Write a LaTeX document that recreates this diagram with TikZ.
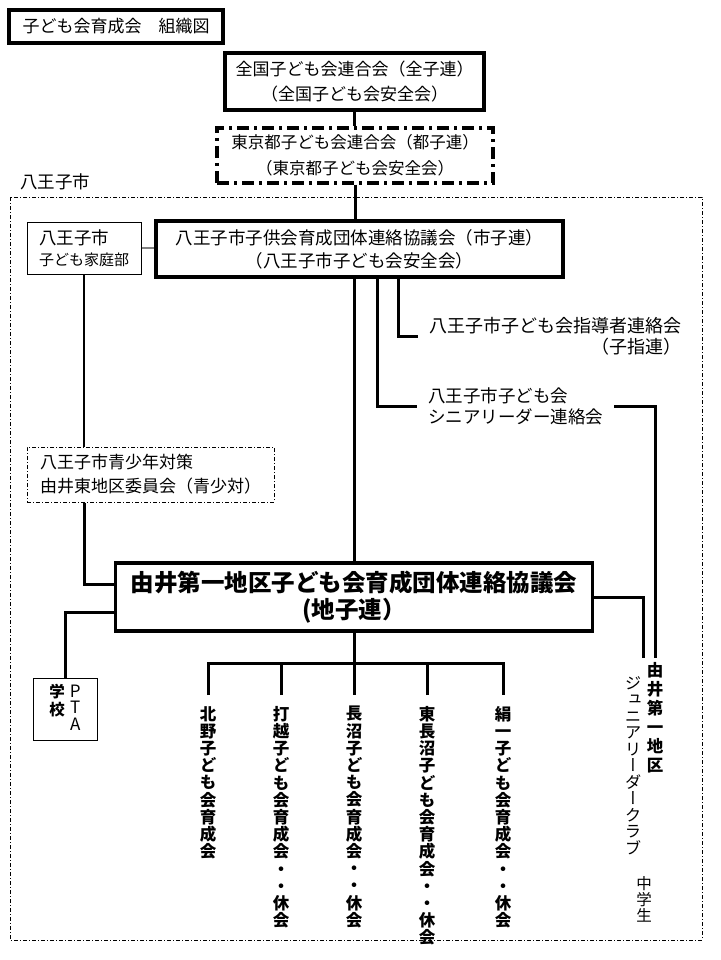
\documentclass[tikz,border=0pt]{standalone}
\usepackage{fontspec}
\setmainfont{Noto Sans CJK JP}
\newfontfamily\jpv[RawFeature=+vert]{Noto Sans CJK JP}
\tikzset{
  thickbox/.style={draw, line width=3.3pt, inner sep=0pt, align=center},
  thinbox/.style={draw, line width=1pt, inner sep=0pt},
  ddot/.style={dash pattern=on 4pt off 2pt on 1pt off 2pt},
  conn/.style={line width=3pt},
  thinconn/.style={line width=1.3pt},
  vcol/.style={align=center, inner xsep=0pt, inner ysep=0pt, anchor=north,
    font=\jpv\bfseries\fontsize{16.5}{17.2}\selectfont},
}
\begin{document}
\begin{tikzpicture}[x=1pt,y=-1pt]
\useasboundingbox (0,0) rectangle (720,960);

% title
\node[thickbox, minimum width=214pt, minimum height=33pt,
  font=\fontsize{17}{20}\selectfont] (title) at (116,26.5) {子ども会育成会　組織図};

% national
\node[thickbox, minimum width=259pt, minimum height=57pt,
  font=\fontsize{17}{25}\selectfont] (zen) at (354.5,81.5)
  {全国子ども会連合会（全子連）\\（全国子ども会安全会）};

% tokyo
\node[draw, line width=3.3pt, dash pattern=on 12pt off 5pt on 3pt off 5pt,
  inner sep=0pt, align=center, minimum width=276pt, minimum height=55pt,
  font=\fontsize{16.5}{26}\selectfont] (tokyo) at (355,155.5)
  {東京都子ども会連合会（都子連）\\（東京都子ども会安全会）};

% Hachioji region
\node[anchor=west, inner sep=0pt, font=\fontsize{17.5}{20}\selectfont] (hlabel) at (20,182) {八王子市};
\draw[line width=1pt, ddot] (10,197) rectangle (702,940);

% katei
\node[thinbox, minimum width=114pt, minimum height=52pt, align=left,
  font=\fontsize{17.5}{21}\selectfont] (katei) at (84,248)
  {八王子市\\{\fontsize{15}{18}\selectfont 子ども家庭部}};

% shikoren
\node[thickbox, minimum width=407pt, minimum height=56pt,
  font=\fontsize{17.5}{23}\selectfont] (shikoren) at (359.5,249)
  {八王子市子供会育成団体連絡協議会（市子連）\\（八王子市子ども会安全会）};

% shido
\node[align=right, inner xsep=11pt, inner ysep=0pt,
  font=\fontsize{18}{21}\selectfont] (shido) at (555.5,336.5)
  {八王子市子ども会指導者連絡会\\（子指連）};

% senior
\node[align=left, inner xsep=11pt, inner ysep=0pt, anchor=west,
  font=\fontsize{17.5}{21}\selectfont] (senior) at (417,406)
  {八王子市子ども会\\シニアリーダー連絡会};

% seishou
\node[draw, line width=1pt, ddot, inner sep=0pt, minimum width=247pt, minimum height=55pt,
  align=left, font=\fontsize{17}{24}\selectfont] (seishou) at (150.5,474.5)
  {八王子市青少年対策\\由井東地区委員会（青少対）};

% chikoren
\node[draw, line width=3.8pt, inner sep=0pt, minimum width=477pt, minimum height=68pt,
  align=center, font=\bfseries\fontsize{23.5}{27}\selectfont] (chikoren) at (354,597)
  {由井第一地区子ども会育成団体連絡協議会\\(地子連）};

% PTA
\node[thinbox, minimum width=64pt, minimum height=62pt] (pta) at (65,709)
  {\fontsize{15.5}{17}\selectfont\begin{tabular}[t]{@{}c@{}}\textbf{学}\\\textbf{校}\end{tabular}\hspace{5pt}\fontsize{17}{12.5}\selectfont\begin{tabular}[t]{@{}c@{}}P\\T\\A\end{tabular}};

% columns
\node[vcol, inner ysep=11pt] (c1) at (208,695) {北\\野\\子\\ど\\も\\会\\育\\成\\会};
\node[vcol, inner ysep=11pt] (c2) at (281,695) {打\\越\\子\\ど\\も\\会\\育\\成\\会\\・\\・\\休\\会};
\node[vcol, inner ysep=11pt] (c3) at (354,695) {長\\沼\\子\\ど\\も\\会\\育\\成\\会\\・\\・\\休\\会};
\node[vcol, inner ysep=11pt] (c4) at (427,695) {東\\長\\沼\\子\\ど\\も\\会\\育\\成\\会\\・\\・\\休\\会};
\node[vcol, inner ysep=11pt] (c5) at (503,695) {絹\\一\\子\\ど\\も\\会\\育\\成\\会\\・\\・\\休\\会};

% junior leader
\node[vcol, inner ysep=4pt, font=\jpv\bfseries\fontsize{16.5}{19}\selectfont] (yui) at (655,658)
  {由\\井\\第\\一\\地\\区};
\node[vcol, font=\jpv\fontsize{16.5}{16.5}\selectfont] (jr) at (633,676)
  {ジ\\ュ\\ニ\\ア\\リ\\ー\\ダ\\ー\\ク\\ラ\\ブ};
\node[vcol, font=\jpv\fontsize{15.5}{16}\selectfont] (chu) at (644,876) {中\\学\\生};

% connectors
\draw[conn] (zen.south) -- (zen.south |- tokyo.north);
\draw[conn] (tokyo.south) -- (tokyo.south |- shikoren.north);
\draw[line width=2pt, gray] (katei.east) -- (katei.east -| shikoren.west);
\draw[thinconn] (katei.south) -- (katei.south |- seishou.north);
\draw[conn] (katei.south |- seishou.south) |- ([yshift=13pt]chikoren.west);
\draw[conn] ([yshift=-15pt]chikoren.west) -| (pta.north);
\draw[conn] (chikoren.north |- shikoren.south) -- (chikoren.north);
\draw[conn] ([xshift=17.5pt]shikoren.south) |- (senior.west);
\draw[conn] ([xshift=38.5pt]shikoren.south) |- (shido.west);
\draw[conn] (senior.east) -| (yui.north);
\coordinate (jrin) at (643,658);
\draw[conn] (chikoren.east) -| (jrin);
\coordinate (bar) at (354,663);
\draw[conn] (c1.north) |- (bar) -| (c5.north);
\draw[conn] (c2.north) -- (c2.north |- bar);
\draw[conn] (c4.north) -- (c4.north |- bar);
\draw[conn] (chikoren.south) -- (c3.north);
\end{tikzpicture}
\end{document}
